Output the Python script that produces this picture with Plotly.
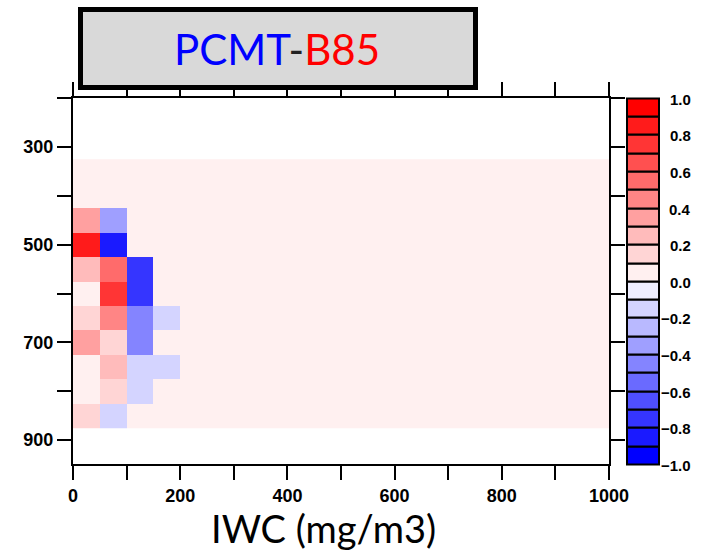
import plotly.graph_objects as go

# ---------------- data ----------------
iwc_centers = [25, 75, 125, 175, 225, 275, 325, 375, 425, 475,
               525, 575, 625, 675, 725, 775, 825, 875, 925, 975]
pressure_centers = [350, 400, 450, 500, 550, 600, 650, 700, 750, 800, 850]

row_350 = [0.05, 0.05, 0.05, 0.05, 0.05, 0.05, 0.05, 0.05, 0.05, 0.05, 0.05, 0.05, 0.05, 0.05, 0.05, 0.05, 0.05, 0.05, 0.05, 0.05]
row_400 = [0.05, 0.05, 0.05, 0.05, 0.05, 0.05, 0.05, 0.05, 0.05, 0.05, 0.05, 0.05, 0.05, 0.05, 0.05, 0.05, 0.05, 0.05, 0.05, 0.05]
row_450 = [0.35, -0.35, 0.05, 0.05, 0.05, 0.05, 0.05, 0.05, 0.05, 0.05, 0.05, 0.05, 0.05, 0.05, 0.05, 0.05, 0.05, 0.05, 0.05, 0.05]
row_500 = [0.85, -0.85, 0.05, 0.05, 0.05, 0.05, 0.05, 0.05, 0.05, 0.05, 0.05, 0.05, 0.05, 0.05, 0.05, 0.05, 0.05, 0.05, 0.05, 0.05]
row_550 = [0.25, 0.55, -0.75, 0.05, 0.05, 0.05, 0.05, 0.05, 0.05, 0.05, 0.05, 0.05, 0.05, 0.05, 0.05, 0.05, 0.05, 0.05, 0.05, 0.05]
row_600 = [0.05, 0.75, -0.75, 0.05, 0.05, 0.05, 0.05, 0.05, 0.05, 0.05, 0.05, 0.05, 0.05, 0.05, 0.05, 0.05, 0.05, 0.05, 0.05, 0.05]
row_650 = [0.15, 0.45, -0.45, -0.15, 0.05, 0.05, 0.05, 0.05, 0.05, 0.05, 0.05, 0.05, 0.05, 0.05, 0.05, 0.05, 0.05, 0.05, 0.05, 0.05]
row_700 = [0.35, 0.15, -0.45, 0.05, 0.05, 0.05, 0.05, 0.05, 0.05, 0.05, 0.05, 0.05, 0.05, 0.05, 0.05, 0.05, 0.05, 0.05, 0.05, 0.05]
row_750 = [0.05, 0.25, -0.15, -0.15, 0.05, 0.05, 0.05, 0.05, 0.05, 0.05, 0.05, 0.05, 0.05, 0.05, 0.05, 0.05, 0.05, 0.05, 0.05, 0.05]
row_800 = [0.05, 0.15, -0.15, 0.05, 0.05, 0.05, 0.05, 0.05, 0.05, 0.05, 0.05, 0.05, 0.05, 0.05, 0.05, 0.05, 0.05, 0.05, 0.05, 0.05]
row_850 = [0.15, -0.15, 0.05, 0.05, 0.05, 0.05, 0.05, 0.05, 0.05, 0.05, 0.05, 0.05, 0.05, 0.05, 0.05, 0.05, 0.05, 0.05, 0.05, 0.05]

x_tick_values = [0, 100, 200, 300, 400, 500, 600, 700, 800, 900, 1000]
x_tick_labels = ["0", "", "200", "", "400", "", "600", "", "800", "", "1000"]
y_tick_values = [200, 300, 400, 500, 600, 700, 800, 900]
y_tick_labels = ["", "300", "", "500", "", "700", "", "900"]

cbar_edges = [-1.0, -0.9, -0.8, -0.7, -0.6, -0.5, -0.4, -0.3, -0.2, -0.1,
              0.0, 0.1, 0.2, 0.3, 0.4, 0.5, 0.6, 0.7, 0.8, 0.9, 1.0]
cbar_label_values = [1.0, 0.8, 0.6, 0.4, 0.2, 0.0, -0.2, -0.4, -0.6, -0.8, -1.0]
cbar_label_texts = ["1.0", "0.8", "0.6", "0.4", "0.2", "0.0",
                    "\u22120.2", "\u22120.4", "\u22120.6", "\u22120.8", "\u22121.0"]

title_parts = ["PCMT", "-", "B85"]
x_title = "IWC (mg/m3)"

# ---------------- styling helpers ----------------
W, H = 702, 553


def px_x(p):
    return p / W


def px_y(p):
    return 1 - p / H


# discrete colours: 10 blue bins then 10 red bins
bin_colors = []
for i in range(10):
    lv = round(238 * i / 9)
    bin_colors.append(f"rgb({lv},{lv},255)")
for j in range(10):
    lv = round(240 * (9 - j) / 9)
    bin_colors.append(f"rgb(255,{lv},{lv})")

nb = len(bin_colors)
colorscale = []
for k, c in enumerate(bin_colors):
    colorscale.append([k / nb, c])
    colorscale.append([(k + 1) / nb, c])

z = [row_350, row_400, row_450, row_500, row_550, row_600,
     row_650, row_700, row_750, row_800, row_850]

fig = go.Figure()

fig.add_trace(go.Heatmap(
    x=iwc_centers, y=pressure_centers, z=z,
    zmin=-1, zmax=1, colorscale=colorscale, showscale=False,
    xaxis="x", yaxis="y", hoverinfo="skip",
))

# colour bar drawn as stacked bars with black outlines
fig.add_trace(go.Bar(
    x=[0] * nb,
    y=[cbar_edges[k + 1] - cbar_edges[k] for k in range(nb)],
    base=cbar_edges[:-1],
    width=1,
    marker=dict(color=bin_colors, line=dict(color="black", width=2)),
    xaxis="x2", yaxis="y2", showlegend=False, hoverinfo="skip",
))

axis_font = dict(family="Liberation Sans", size=18, color="black", weight="bold")
common_axis = dict(
    showgrid=False, zeroline=False, showline=True, linecolor="black",
    linewidth=2, ticks="outside", ticklen=14, tickwidth=2, tickcolor="black",
    mirror="allticks", tickfont=axis_font, automargin=False,
)

fig.update_layout(
    width=W, height=H,
    margin=dict(l=0, r=0, t=0, b=0),
    paper_bgcolor="white", plot_bgcolor="white",
    showlegend=False,
    xaxis=dict(domain=[px_x(73), px_x(609)], range=[0, 1000],
               tickmode="array", tickvals=x_tick_values, ticktext=x_tick_labels,
               anchor="y", **common_axis),
    yaxis=dict(domain=[px_y(464.4), px_y(98.2)], range=[950, 200],
               tickmode="array", tickvals=y_tick_values, ticktext=y_tick_labels,
               anchor="x", **common_axis),
    xaxis2=dict(domain=[px_x(626), px_x(660)], range=[-0.53, 0.53],
                visible=False, anchor="y2", fixedrange=True),
    yaxis2=dict(domain=[px_y(466.2), px_y(96.5)], range=[-1.01, 1.01],
                visible=False, anchor="x2", fixedrange=True),
    bargap=0,
)

# colour bar labels
for v, t in zip(cbar_label_values, cbar_label_texts):
    fig.add_annotation(
        x=px_x(693), xref="paper", y=v, yref="y2", text=t, showarrow=False,
        xanchor="right", yanchor="middle", yshift=-1,
        font=dict(family="Liberation Sans", size=15, color="black", weight="bold"),
    )

# title box
fig.add_shape(type="rect", xref="paper", yref="paper",
              x0=px_x(80.5), x1=px_x(475.5), y0=px_y(87.5), y1=px_y(9.5),
              line=dict(color="black", width=5), fillcolor="#D9D9D9", layer="above")

title_colors = ["#0000FF", "#222222", "#FF0000"]
title_html = "".join(f"<span style='color:{c}'>{p}</span>" for p, c in zip(title_parts, title_colors))
fig.add_annotation(
    x=px_x(277), y=px_y(49), xref="paper", yref="paper", text=title_html,
    showarrow=False, xanchor="center", yanchor="middle",
    font=dict(family="Lato", size=42, color="black"),
)

# x axis title
fig.add_annotation(
    x=px_x(323), y=px_y(528), xref="paper", yref="paper", text=x_title,
    showarrow=False, xanchor="center", yanchor="middle",
    font=dict(family="Lato", size=38, color="black"),
)

fig.write_html("out.html")
